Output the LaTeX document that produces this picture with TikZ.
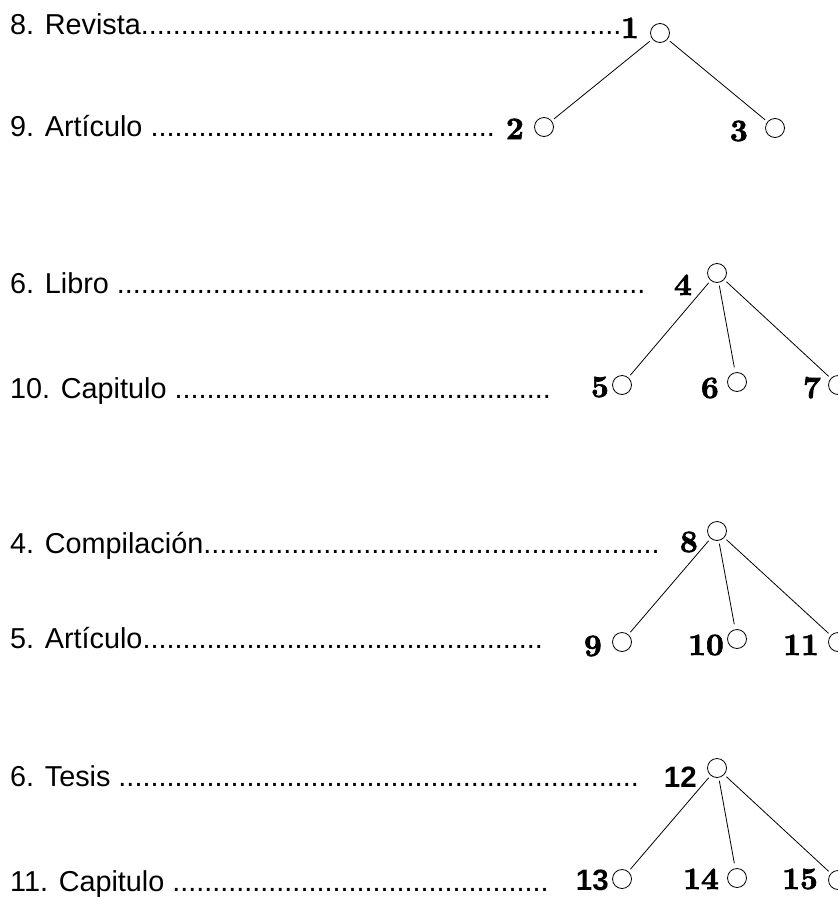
\documentclass[tikz,border=0pt]{standalone}
\usepackage{fontspec}
\newfontfamily\arial{Liberation Sans}
\newfontfamily\numfont{lmroman10-bold.otf}[FakeBold=2]
\begin{document}
\begin{tikzpicture}[x=1pt,y=-1pt,
  vtx/.style={circle, draw, line width=0.8pt, minimum size=19pt, inner sep=0pt},
  txt/.style={anchor=base west, inner sep=0pt, font=\arial\fontsize{28.8}{30}\selectfont},
  num/.style={anchor=base east, inner sep=0pt, font=\numfont\fontsize{31}{33}\selectfont},
  snum/.style={anchor=base east, inner sep=0pt, font=\arial\fontsize{29.5}{31}\selectfont\bfseries},
  edge/.style={line width=0.8pt, shorten <=3pt, shorten >=3pt},
  midedge/.style={edge, shorten >=5pt}]
\useasboundingbox[fill=white] (0,0) rectangle (838,897);

% texts
\node[txt] (t1) at (10,34) {8. Revista............................................................};
\node[txt] (t2) at (10,136) {9. Artículo ...........................................};
\node[txt] (t3) at (10,293) {6. Libro ..................................................................};
\node[txt] (t4) at (10,398) {10. Capitulo ...............................................};
\node[txt] (t5) at (10,553) {4. Compilación.........................................................};
\node[txt] (t6) at (10,648) {5. Artículo..................................................};
\node[txt] (t7) at (10,786) {6. Tesis .................................................................};
\node[txt] (t8) at (10,891) {11. Capitulo ...............................................};

% tree 1
\node[vtx] (n1) at (660,33) {};
\node[vtx] (n2) at (544,127) {};
\node[vtx] (n3) at (775,128) {};
\node[num] (l1) at (639,38) {1};
\node[num] (l2) at (524,139) {2};
\node[num] (l3) at (748,141) {3};
\draw[edge] (n1) -- (n2);
\draw[edge] (n1) -- (n3);

% tree 2
\node[vtx] (n4) at (717,273) {};
\node[vtx] (n5) at (622,385) {};
\node[vtx] (n6) at (737,382) {};
\node[vtx] (n7) at (838,385) {};
\node[num] (l4) at (692,295) {4};
\node[num] (l5) at (609,397) {5};
\node[num] (l6) at (719,398) {6};
\node[num] (l7) at (821,398) {7};
\draw[edge] (n4) -- (n5);
\draw[midedge] (n4) -- (n6);
\draw[edge] (n4) -- (n7);

% tree 3
\node[vtx] (n8) at (717,531) {};
\node[vtx] (n9) at (622,642) {};
\node[vtx] (n10) at (737,639) {};
\node[vtx] (n11) at (838,642) {};
\node[num] (l8) at (698,552) {8};
\node[num] (l9) at (602,656) {9};
\node[num] (l10) at (724,655) {10};
\node[num] (l11) at (819,655) {11};
\draw[edge] (n8) -- (n9);
\draw[midedge] (n8) -- (n10);
\draw[edge] (n8) -- (n11);

% tree 4
\node[vtx] (n12) at (717,768) {};
\node[vtx] (n13) at (622,879) {};
\node[vtx] (n14) at (737,878) {};
\node[vtx] (n15) at (838,880) {};
\node[snum] (l12) at (697,787) {12};
\node[snum] (l13) at (609,890) {13};
\node[num] (l14) at (719,889) {14};
\node[num] (l15) at (818,889) {15};
\draw[edge] (n12) -- (n13);
\draw[midedge] (n12) -- (n14);
\draw[edge] (n12) -- (n15);
\end{tikzpicture}
\end{document}
